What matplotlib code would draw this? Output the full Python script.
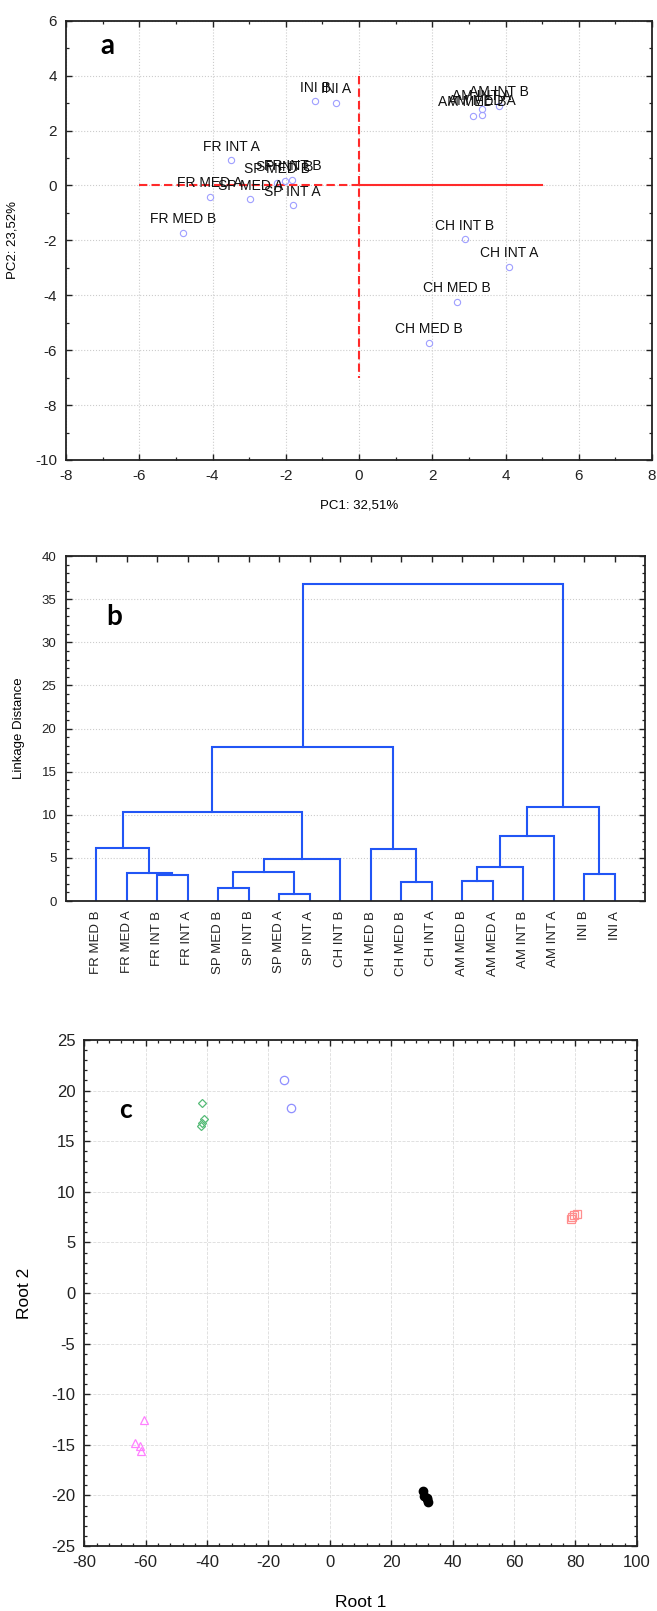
import matplotlib
matplotlib.use("Agg")
import matplotlib.pyplot as plt
from matplotlib.ticker import MultipleLocator, FixedLocator

plt.rcParams['font.family'] = ['Liberation Sans', 'DejaVu Sans']
plt.rcParams['axes.unicode_minus'] = False

# ---------------- Panel a data (PCA scores) ----------------
pca_labels = ["INI B", "INI A", "AM MED B", "AM MED A", "AM INT A", "AM INT B",
              "FR INT A", "SP MED B", "SP INT B", "FR INT B", "FR MED A",
              "SP MED A", "SP INT A", "FR MED B", "CH INT B", "CH INT A",
              "CH MED B", "CH MED B"]
pc1 = [-1.20, -0.62, 3.10, 3.35, 3.35, 3.81,
       -3.49, -2.25, -2.03, -1.82, -4.08,
       -2.97, -1.81, -4.81, 2.89, 4.10,
       2.67, 1.90]
pc2 = [3.06, 3.00, 2.53, 2.58, 2.77, 2.89,
       0.91, 0.10, 0.16, 0.19, -0.41,
       -0.51, -0.73, -1.74, -1.96, -2.96,
       -4.25, -5.73]

# ---------------- Panel b data (dendrogram) ----------------
leaves = ["FR MED B", "FR MED A", "FR INT B", "FR INT A", "SP MED B", "SP INT B",
          "SP MED A", "SP INT A", "CH INT B", "CH MED B", "CH MED B", "CH INT A",
          "AM MED B", "AM MED A", "AM INT B", "AM INT A", "INI B", "INI A"]
# merges: (child1, child2, linkage distance); new cluster ids start at len(leaves)
merge_a = [2, 1, 0, 4, 6, 21, 23, 20, 10, 9, 25, 12, 29, 30, 16, 31, 28]
merge_b = [3, 18, 19, 5, 7, 22, 8, 24, 11, 26, 27, 13, 14, 15, 17, 32, 33]
merge_h = [3.06, 3.22, 6.16, 1.47, 0.78, 3.41, 4.88, 10.27, 2.17, 6.05, 17.8,
           2.33, 3.91, 7.48, 3.18, 10.93, 36.72]

# ---------------- Panel c data (discriminant roots) ----------------
g_circ_x = [-14.9, -12.6]
g_circ_y = [21.0, 18.26]
g_diam_x = [-41.7, -41.0, -41.5, -42.0]
g_diam_y = [18.8, 17.2, 16.8, 16.5]
g_sq_x = [78.4, 78.9, 79.5, 80.6]
g_sq_y = [7.33, 7.5, 7.66, 7.76]
g_tri_x = [-60.6, -63.4, -61.7, -61.5]
g_tri_y = [-12.58, -14.8, -15.13, -15.6]
g_blk_x = [30.3, 30.8, 31.8, 32.1, 31.5]
g_blk_y = [-19.6, -20.1, -20.3, -20.65, -20.4]

W, H = 657, 1611
fig = plt.figure(figsize=(W / 100, H / 100), dpi=100)


def ax_px(left, top, right, bottom):
    return fig.add_axes([left / W, 1 - bottom / H, (right - left) / W, (bottom - top) / H])


def style_axes(ax, lsize):
    for s in ax.spines.values():
        s.set_linewidth(1.3)
        s.set_color('#222222')
    ax.tick_params(which='both', direction='in', top=True, right=True,
                   labelsize=lsize, colors='#222222', pad=6.5)
    ax.tick_params(which='major', length=4, width=1.0)
    ax.tick_params(which='minor', length=2.5, width=0.9)


# ================= Panel a =================
axa = ax_px(66, 20.7, 652, 460)
axa.set_xlim(-8, 8)
axa.set_ylim(-10, 6)
axa.xaxis.set_major_locator(MultipleLocator(2))
axa.yaxis.set_major_locator(MultipleLocator(2))
axa.xaxis.set_minor_locator(MultipleLocator(1))
axa.yaxis.set_minor_locator(MultipleLocator(1))
axa.grid(True, which='major', linestyle=':', color='#cccccc', linewidth=0.8)
axa.set_axisbelow(True)
style_axes(axa, 11)

red = '#ff2a2a'
axa.plot([-6, 0], [0, 0], color=red, lw=1.5, ls=(0, (4, 2)))
axa.plot([0, 5], [0, 0], color=red, lw=1.5)
axa.plot([0, 0], [4, -7], color=red, lw=1.5, ls=(0, (4, 2)))

axa.plot(pc1, pc2, 'o', mfc='none', mec='#9f9fff', ms=4.5, mew=0.8, ls='none')
for lab, x, y in zip(pca_labels, pc1, pc2):
    axa.annotate(lab, (x, y), xytext=(0, 7), textcoords='offset points',
                 ha='center', va='baseline', fontsize=10, color='#111111')

axa.set_xlabel("PC1: 32,51%", fontsize=9.5, labelpad=12)
axa.set_ylabel("PC2: 23,52%", fontsize=9.5, labelpad=12)
fig.text(107 / W, 1 - 46 / H, "a", fontsize=20, fontweight='bold',
         family=['Lato', 'DejaVu Sans'], ha='center', va='center')

# ================= Panel b =================
axb = ax_px(65.5, 556, 645, 901)
n = len(leaves)
xpos = {i: i + 1.0 for i in range(n)}
hgt = {i: 0.0 for i in range(n)}
blue = '#2155f5'
for k, (a, b, h) in enumerate(zip(merge_a, merge_b, merge_h)):
    cid = n + k
    xa, xb = xpos[a], xpos[b]
    axb.plot([xa, xa, xb, xb], [hgt[a], h, h, hgt[b]], color=blue, lw=1.5,
             solid_joinstyle='miter')
    xpos[cid] = (xa + xb) / 2
    hgt[cid] = h

axb.set_xlim(0, n + 1)
axb.set_ylim(0, 40)
axb.yaxis.set_major_locator(MultipleLocator(5))
axb.yaxis.set_minor_locator(MultipleLocator(1))
axb.xaxis.set_major_locator(FixedLocator([i + 1 for i in range(n)]))
axb.set_xticklabels(leaves, rotation=90, fontsize=9.5)
axb.grid(True, which='major', axis='y', linestyle=':', color='#cccccc', linewidth=0.8)
axb.set_axisbelow(True)
style_axes(axb, 9.5)
axb.tick_params(axis='x', which='major', bottom=False, top=True, length=4, pad=7)
axb.set_ylabel("Linkage Distance", fontsize=9.5, labelpad=12)
fig.text(114 / W, 1 - 617 / H, "b", fontsize=20, fontweight='bold',
         family=['Lato', 'DejaVu Sans'], ha='center', va='center')

# ================= Panel c =================
axc = ax_px(84.3, 1040, 636.8, 1546)
axc.set_xlim(-80, 100)
axc.set_ylim(-25, 25)
axc.xaxis.set_major_locator(MultipleLocator(20))
axc.yaxis.set_major_locator(MultipleLocator(5))
axc.xaxis.set_minor_locator(MultipleLocator(4))
axc.yaxis.set_minor_locator(MultipleLocator(1))
axc.grid(True, which='major', linestyle='--', color='#dcdcdc', linewidth=0.6)
axc.set_axisbelow(True)
style_axes(axc, 12)

axc.plot(g_circ_x, g_circ_y, 'o', mfc='none', mec='#8f8fff', ms=6, mew=0.9, ls='none')
axc.plot(g_diam_x, g_diam_y, 'D', mfc='none', mec='#55bb77', ms=4.5, mew=0.9, ls='none')
axc.plot(g_sq_x, g_sq_y, 's', mfc='none', mec='#ff8f8f', ms=5.5, mew=0.9, ls='none')
axc.plot(g_tri_x, g_tri_y, '^', mfc='none', mec='#ff80ff', ms=6, mew=0.9, ls='none')
axc.plot(g_blk_x, g_blk_y, 'o', mfc='black', mec='black', ms=6, ls='none')

axc.set_xlabel("Root 1", fontsize=12.5, labelpad=18)
axc.set_ylabel("Root 2", fontsize=12.5, labelpad=14)
fig.text(126 / W, 1 - 1110 / H, "c", fontsize=19, fontweight='bold',
         family=['Lato', 'DejaVu Sans'], ha='center', va='center')

fig.savefig("out.png", dpi=100)
